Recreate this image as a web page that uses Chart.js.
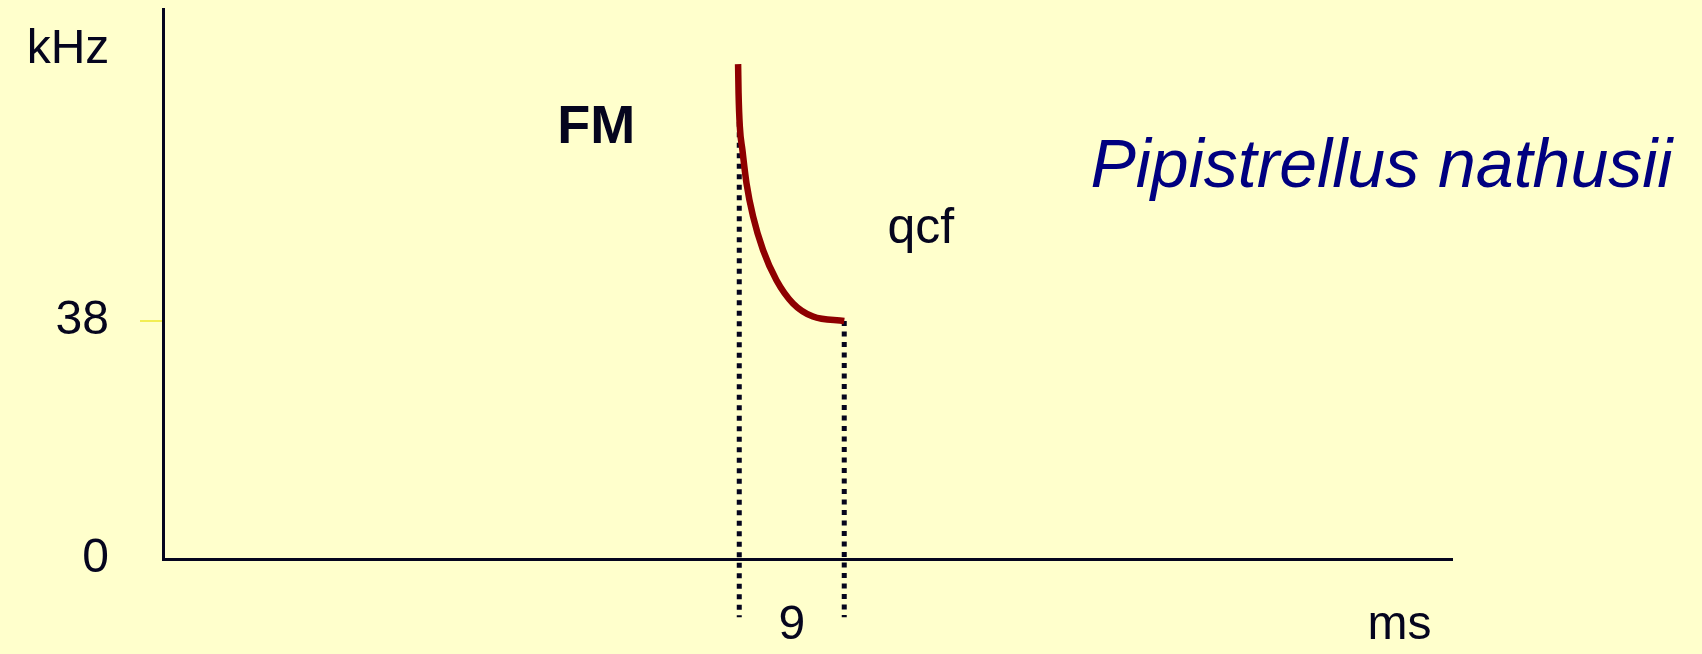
<!DOCTYPE html>
<html>
<head>
<meta charset="utf-8">
<script src="https://cdn.jsdelivr.net/npm/chart.js@4.4.1/dist/chart.umd.min.js"></script>
<style>
    html, body { margin: 0; padding: 0; background: #ffffcc; }
    #chart-container { width: 1702px; height: 654px; position: relative; }
</style>
</head>
<body>
<div id="chart-container"><canvas id="call-chart"></canvas></div>
<script>
// Call shape of Pipistrellus nathusii (ms / kHz)
const callTimes = [49.30, 49.34, 49.45, 49.67, 50.02, 50.58, 51.44, 52.59, 54.01, 55.72, 58.4];
const callFreqs = [79.0, 74.4, 69.0, 65.3, 60.0, 54.7, 49.3, 44.5, 40.8, 38.7, 38.0];

// dotted markers: start and end of the call
const markerTimes = [49.4, 58.4];
const markerTops = [69.8, 38.0];
const markerBottom = -9.3;

const yTickValues = [0, 38];
const yTickLabels = ['0', '38'];
const xTickValues = [53.9, 106];
const xTickLabels = ['9', 'ms'];

const noteTexts = ['kHz', 'FM', 'qcf', 'Pipistrellus nathusii'];
const noteTimes = [-4.6, 33.8, 62.1, 79.5];
const noteFreqs = [79.2, 66.4, 50.5, 59.4];

const FONT = "'Comic Sans MS', 'Liberation Sans', Arial, sans-serif";
const INK = '#05051e';

let noteStyles = [
    {font: `48px ${FONT}`, color: INK, align: 'right'},
    {font: `bold 54px ${FONT}`, color: INK, align: 'left'},
    {font: `50px ${FONT}`, color: INK, align: 'left'},
    {font: `italic 68px ${FONT}`, color: '#000080', align: 'left'},
];

// writes the free labels at their data positions
const notesPlugin = {
    id: 'notes',
    afterDatasetsDraw(chart) {
        let ctx = chart.ctx;
        let x = chart.scales.x, y = chart.scales.y;
        ctx.save();
        ctx.textBaseline = 'alphabetic';
        noteTexts.forEach((text, i) => {
            ctx.font = noteStyles[i].font;
            ctx.fillStyle = noteStyles[i].color;
            ctx.textAlign = noteStyles[i].align;
            ctx.fillText(text, x.getPixelForValue(noteTimes[i]), y.getPixelForValue(noteFreqs[i]));
        });
        ctx.restore();
    }
};

let datasets = [{
    data: callTimes.map((t, i) => ({x: t, y: callFreqs[i]})),
    borderColor: '#8e0000',
    borderWidth: 6.5,
    cubicInterpolationMode: 'monotone',
    borderCapStyle: 'butt',
    pointRadius: 0,
    order: 0
}];

markerTimes.forEach((t, i) => {
    datasets.push({
        data: [{x: t, y: markerTops[i]}, {x: t, y: markerBottom}],
        borderColor: INK,
        borderWidth: 5,
        borderDash: [5, 5.5],
        borderCapStyle: 'butt',
        pointRadius: 0,
        clip: false,
        order: 1
    });
});

new Chart(document.getElementById('call-chart'), {
    type: 'line',
    data: { datasets: datasets },
    options: {
        responsive: true,
        maintainAspectRatio: false,
        animation: false,
        layout: { padding: { top: 9, right: 250, left: 0, bottom: 0 } },
        scales: {
            x: {
                type: 'linear',
                min: 0,
                max: 110.5,
                afterBuildTicks: scale => { scale.ticks = xTickValues.map(v => ({value: v})); },
                afterFit: scale => {
                    scale.height = 95;
                    scale.paddingLeft = 0;
                    scale.paddingRight = 0;
                },
                ticks: {
                    autoSkip: false,
                    maxRotation: 0,
                    padding: 38,
                    color: INK,
                    font: { family: FONT, size: 48 },
                    callback: (value, index) => xTickLabels[index]
                },
                grid: { display: true, drawOnChartArea: false, drawTicks: false },
                border: { display: true, color: INK, width: 3 }
            },
            y: {
                type: 'linear',
                min: 0,
                max: 87.8,
                afterBuildTicks: scale => { scale.ticks = yTickValues.map(v => ({value: v})); },
                afterFit: scale => {
                    scale.width = 163;
                    scale.paddingTop = 0;
                    scale.paddingBottom = 0;
                },
                ticks: {
                    autoSkip: false,
                    padding: 31,
                    color: INK,
                    font: { family: FONT, size: 48 },
                    callback: (value, index) => yTickLabels[index]
                },
                grid: {
                    drawOnChartArea: false,
                    drawTicks: true,
                    tickLength: 23,
                    lineWidth: 2,
                    color: ctx => ctx.tick && ctx.tick.value === 38 ? '#f2ee55' : 'rgba(0,0,0,0)'
                },
                border: { display: true, color: INK, width: 3 }
            }
        },
        plugins: {
            legend: { display: false },
            tooltip: { enabled: false },
            title: { display: false }
        }
    },
    plugins: [notesPlugin]
});
</script>
</body>
</html>
